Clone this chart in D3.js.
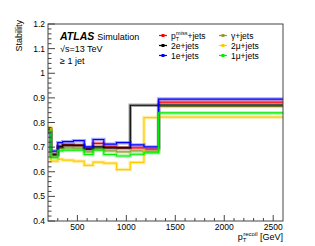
<!DOCTYPE html>
<html>
<head>
<meta charset="utf-8">
<script src="https://cdn.jsdelivr.net/npm/d3@7"></script>
<style>
  body { margin: 0; background: #fff; }
  svg { font-family: "Liberation Sans", Arial, sans-serif; }
</style>
</head>
<body>
<svg width="315" height="246"></svg>
<script>
// bin edges in GeV and per-bin stability values
const edges = [200, 230, 300, 350, 460, 570, 660, 770, 900, 1040, 1180, 1330, 2600];
const ptmissJets = [0.768, 0.672, 0.704, 0.709, 0.708, 0.695, 0.715, 0.701, 0.697, 0.697, 0.692, 0.883];
const gammaJets = [0.775, 0.665, 0.695, 0.697, 0.696, 0.681, 0.693, 0.685, 0.681, 0.685, 0.684, 0.865];
const twoEJets = [0.773, 0.669, 0.701, 0.708, 0.707, 0.692, 0.701, 0.697, 0.697, 0.870, 0.870, 0.871];
const twoMuJets = [0.780, 0.643, 0.651, 0.647, 0.643, 0.626, 0.639, 0.635, 0.609, 0.638, 0.820, 0.822];
const oneEJets = [0.758, 0.684, 0.718, 0.722, 0.726, 0.701, 0.731, 0.712, 0.718, 0.709, 0.701, 0.895];
const oneMuJets = [0.765, 0.657, 0.685, 0.688, 0.688, 0.670, 0.688, 0.670, 0.664, 0.671, 0.677, 0.839];

const xTicks = [500, 1000, 1500, 2000, 2500];
const yTicks = [0.4, 0.5, 0.6, 0.7, 0.8, 0.9, 1, 1.1, 1.2];

const series = [
  { key: "ptmiss", label: "ptmiss", values: ptmissJets, color: "#ff0000" },
  { key: "gamma", label: "γ+jets", values: gammaJets, color: "#999933" },
  { key: "2e", label: "2e+jets", values: twoEJets, color: "#000000" },
  { key: "2mu", label: "2μ+jets", values: twoMuJets, color: "#ffcc00" },
  { key: "1e", label: "1e+jets", values: oneEJets, color: "#0000ff" },
  { key: "1mu", label: "1μ+jets", values: oneMuJets, color: "#00ee00" }
];

const svg = d3.select("svg");
const m = { left: 48, right: 283, top: 24, bottom: 221 };

const x = d3.scaleLinear().domain([200, 2600]).range([m.left, m.right]);
const y = d3.scaleLinear().domain([0.4, 1.2]).range([m.bottom, m.top]);

svg.append("rect").attr("width", 315).attr("height", 246).attr("fill", "#fff");

// histograms
const stepLine = d3.line()
  .x(d => x(d[0]))
  .y(d => y(d[1]))
  .curve(d3.curveStepAfter);

const plot = svg.append("g");
series.forEach(s => {
  const pts = s.values.map((v, i) => [edges[i], v]);
  pts.push([edges[edges.length - 1], s.values[s.values.length - 1]]);
  plot.append("path")
    .attr("d", stepLine(pts))
    .attr("fill", "none")
    .attr("stroke", s.color)
    .attr("stroke-opacity", 0.35)
    .attr("stroke-width", 3.5);
  plot.append("path")
    .attr("d", stepLine(pts))
    .attr("fill", "none")
    .attr("stroke", s.color)
    .attr("stroke-width", 1.2);
});

// frame
svg.append("rect")
  .attr("x", m.left).attr("y", m.top)
  .attr("width", m.right - m.left).attr("height", m.bottom - m.top)
  .attr("fill", "none").attr("stroke", "#444").attr("stroke-width", 1);

// y axis
const yAxis = svg.append("g").attr("stroke", "#444");
d3.range(0.4, 1.2001, 0.02).forEach(v => {
  const major = Math.abs(v * 10 - Math.round(v * 10)) < 1e-6;
  yAxis.append("line")
    .attr("x1", m.left).attr("x2", m.left + (major ? 7 : 3.5))
    .attr("y1", y(v)).attr("y2", y(v));
});
svg.append("g").selectAll("text").data(yTicks).join("text")
  .attr("x", m.left - 3).attr("y", d => y(d) + 3)
  .attr("text-anchor", "end").attr("font-size", 8.5)
  .text(d => d3.format("~g")(d));

// x axis
const xAxis = svg.append("g").attr("stroke", "#444");
d3.range(300, 2600, 100).forEach(v => {
  const major = v % 500 === 0;
  xAxis.append("line")
    .attr("x1", x(v)).attr("x2", x(v))
    .attr("y1", m.bottom).attr("y2", m.bottom - (major ? 6 : 3));
});
svg.append("g").selectAll("text").data(xTicks).join("text")
  .attr("x", d => x(d)).attr("y", 230)
  .attr("text-anchor", "middle").attr("font-size", 8.5)
  .text(d => d);

// axis titles
svg.append("text")
  .attr("transform", "translate(22,20) rotate(-90)")
  .attr("text-anchor", "end").attr("font-size", 9)
  .text("Stability");

const xt = svg.append("text")
  .attr("x", m.right).attr("y", 240)
  .attr("text-anchor", "end").attr("font-size", 9);
xt.append("tspan").text("p");
xt.append("tspan").attr("font-size", 6).attr("dy", 2).text("T");
xt.append("tspan").attr("font-size", 6).attr("dx", -3).attr("dy", -6).text("recoil");
xt.append("tspan").attr("dy", 4).text(" [GeV]");

// ATLAS label
const lab = svg.append("text").attr("x", 60).attr("y", 40);
lab.append("tspan").attr("font-weight", "bold").attr("font-style", "italic")
  .attr("font-size", 10.5).text("ATLAS");
lab.append("tspan").attr("font-size", 9).attr("dx", 3).text("Simulation");
svg.append("text").attr("x", 60).attr("y", 52).attr("font-size", 9).text("√s=13 TeV");
svg.append("text").attr("x", 60).attr("y", 64).attr("font-size", 9).text("≥ 1 jet");

// legend
const legendPos = [
  { key: "ptmiss", x: 159, y: 35.5 },
  { key: "2e", x: 159, y: 45.5 },
  { key: "1e", x: 159, y: 55.5 },
  { key: "gamma", x: 219, y: 35.5 },
  { key: "2mu", x: 219, y: 45.5 },
  { key: "1mu", x: 219, y: 55.5 }
];
legendPos.forEach(p => {
  const s = series.find(d => d.key === p.key);
  const g = svg.append("g").attr("transform", `translate(${p.x},${p.y})`);
  g.append("line").attr("x1", 0).attr("x2", 8).attr("y1", 0).attr("y2", 0)
    .attr("stroke", s.color).attr("stroke-width", 1.2);
  g.append("rect").attr("x", 2.5).attr("y", -1.5).attr("width", 3).attr("height", 3)
    .attr("fill", s.color);
  const t = g.append("text").attr("x", 12).attr("y", 3).attr("font-size", 8.5);
  if (s.key === "ptmiss") {
    t.append("tspan").text("p");
    t.append("tspan").attr("font-size", 5.5).attr("dy", 2).text("T");
    t.append("tspan").attr("font-size", 5.5).attr("dx", -3).attr("dy", -6).text("miss");
    t.append("tspan").attr("dy", 4).text("+jets");
  } else {
    t.text(s.label);
  }
});
</script>
</body>
</html>
